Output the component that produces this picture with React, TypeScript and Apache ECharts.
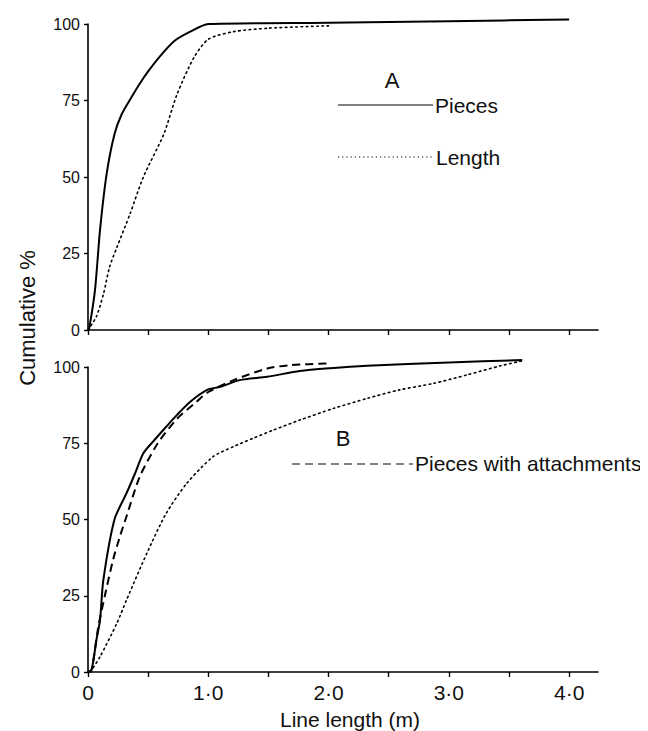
import React, { useEffect, useRef } from "react";
import * as echarts from "echarts";

// Panel A (top)
const topPiecesX = [0, 0.01, 0.058, 0.1, 0.155, 0.22, 0.28, 0.36, 0.43, 0.5, 0.6, 0.72, 0.85, 1.0, 2.0, 3.0, 4.0];
const topPiecesY = [0, 0.5, 13, 32.7, 51, 64, 70.5, 76, 80.5, 84.5, 89.5, 94.5, 97.5, 100, 100.4, 100.9, 101.5];
const topLengthX = [0, 0.07, 0.13, 0.18, 0.24, 0.35, 0.46, 0.63, 0.74, 0.88, 1.0, 1.21, 1.49, 2.0];
const topLengthY = [0, 4.4, 12, 20.7, 27, 38, 50, 64, 77, 89, 95, 97.5, 98.6, 99.4];

// Panel B (bottom)
const botPiecesX = [0, 0.03, 0.07, 0.1, 0.127, 0.22, 0.32, 0.39, 0.46, 0.54, 0.65, 0.74, 0.85, 0.99, 1.1, 1.26, 1.49, 1.76, 2.01, 2.32, 3.0, 3.61];
const botPiecesY = [0, 0.7, 10.5, 17, 30, 50, 58.6, 65, 71.7, 75.5, 80.4, 84.3, 88.6, 92.5, 93.5, 95.7, 96.8, 98.7, 99.6, 100.4, 101.5, 102.3];
const botAttachX = [0, 0.03, 0.086, 0.14, 0.21, 0.27, 0.32, 0.43, 0.58, 0.74, 0.9, 1.0, 1.21, 1.49, 1.68, 2.01];
const botAttachY = [0, 0.7, 14.9, 25, 37, 45, 51, 64, 75, 83, 88.5, 91.8, 95.7, 99.5, 100.6, 101.2];
const botLengthX = [0.02, 0.1, 0.24, 0.32, 0.49, 0.65, 0.82, 1.04, 1.21, 1.37, 1.54, 1.76, 2.04, 2.32, 2.59, 2.87, 3.15, 3.43, 3.61];
const botLengthY = [0, 5, 16, 23.6, 39, 52, 61.8, 70.6, 73.9, 76.6, 79.3, 82.6, 86.4, 89.7, 92.5, 94.6, 97.4, 100.4, 102];

const xTickValues = [0, 0.5, 1, 1.5, 2, 2.5, 3, 3.5, 4];
const xLabelValues = [0, 1, 2, 3, 4];

const FONT = "Liberation Sans";
const zip = (xs: number[], ys: number[]) => xs.map((x, i) => [x, ys[i]]);

export default function App() {
  const ref = useRef<HTMLDivElement>(null);
  useEffect(() => {
    if (!ref.current) return;
    const chart = echarts.init(ref.current, null, { renderer: "svg" });
    const axisLine = { show: true, lineStyle: { color: "#000", width: 1.6 } };
    const mkX = (gridIndex: number, showLabels: boolean) => ({
      type: "value",
      gridIndex,
      min: 0,
      max: 4.24,
      axisLine,
      axisTick: { show: true, inside: false, length: 5, customValues: xTickValues, lineStyle: { color: "#000", width: 1.4 } },
      axisLabel: {
        show: showLabels,
        customValues: xLabelValues,
        margin: 10,
        color: "#111",
        fontFamily: FONT,
        fontSize: 21,
        formatter: (v: number) => (v === 0 ? "0" : v.toFixed(1).replace(".", "·")),
      },
      splitLine: { show: false },
    });
    const mkY = (gridIndex: number) => ({
      type: "value",
      gridIndex,
      min: 0,
      max: 100,
      interval: 25,
      axisLine,
      axisTick: { show: true, inside: false, length: 4, lineStyle: { color: "#000", width: 1.4 } },
      axisLabel: { margin: 8, color: "#111", fontFamily: FONT, fontSize: 16 },
      splitLine: { show: false },
    });
    const solid = { color: "#000", width: 2, type: "solid" };
    const dotted = { color: "#000", width: 1.6, type: [1.6, 3.6], cap: "round" };
    const dashed = { color: "#000", width: 2, type: [8, 5] };
    const line = (name: string, xi: number, data: number[][], style: any) => ({
      type: "line",
      name,
      xAxisIndex: xi,
      yAxisIndex: xi,
      data,
      showSymbol: false,
      smooth: 0.25,
      lineStyle: style,
      clip: false,
    });
    const txt = (x: number, y: number, text: string, size: number, align = "left") => ({
      type: "text",
      x,
      y,
      style: { text, fontFamily: FONT, fontSize: size, fill: "#111", align, verticalAlign: "middle" },
    });
    const gl = (x1: number, x2: number, y: number, dash: any) => ({
      type: "line",
      shape: { x1, y1: y, x2, y2: y },
      style: { stroke: "#000", lineWidth: 1.2, lineDash: dash },
    });
    chart.setOption({
      animation: false,
      backgroundColor: "#fff",
      grid: [
        { left: 80, top: 16, width: 510, height: 306, containLabel: false },
        { left: 80, top: 359, width: 510, height: 305, containLabel: false },
      ],
      xAxis: [mkX(0, false), mkX(1, true)],
      yAxis: [mkY(0), mkY(1)],
      series: [
        line("Pieces A", 0, zip(topPiecesX, topPiecesY), solid),
        line("Length A", 0, zip(topLengthX, topLengthY), dotted),
        line("Pieces B", 1, zip(botPiecesX, botPiecesY), solid),
        line("Pieces with attachments", 1, zip(botAttachX, botAttachY), dashed),
        line("Length B", 1, zip(botLengthX, botLengthY), dotted),
      ],
      graphic: [
        txt(384, 72, "A", 22, "center"),
        gl(330, 425, 97, null),
        txt(427, 97, "Pieces", 21),
        gl(330, 424, 149, [1.2, 3]),
        txt(428, 149, "Length", 21),
        txt(335, 430, "B", 22, "center"),
        gl(284, 405, 456, [8, 5]),
        txt(407, 455, "Pieces with attachments", 21),
        {
          type: "text",
          x: 19,
          y: 310,
          rotation: Math.PI / 2,
          style: { text: "Cumulative %", fontFamily: FONT, fontSize: 22, fill: "#111", align: "center", verticalAlign: "middle" },
        },
        txt(342, 711, "Line length (m)", 21, "center"),
      ],
    });
    return () => chart.dispose();
  }, []);
  return <div ref={ref} style={{ width: 632, height: 723 }} />;
}
